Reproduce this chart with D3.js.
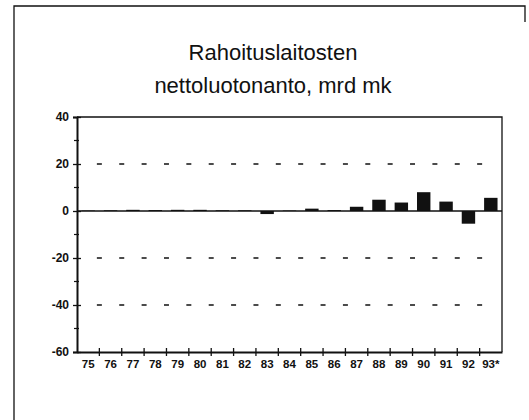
<!DOCTYPE html>
<html><head><meta charset="utf-8">
<script src="https://cdn.jsdelivr.net/npm/d3@7/dist/d3.min.js"></script>
<style>html,body{margin:0;padding:0;background:#fff}svg{display:block}</style>
</head><body>
<svg id="c" width="529" height="420"></svg>
<script>
const categories = ["75","76","77","78","79","80","81","82","83","84","85","86","87","88","89","90","91","92","93*"];
const values = [0.2,0.3,0.5,0.4,0.5,0.5,0.3,0.3,-1.3,0.2,1.0,0.4,1.8,4.8,3.6,8.0,4.0,-5.4,5.6];
const yTicks = [40,20,0,-20,-40,-60];
const yMinor = [30,10,-10,-30,-50];
const gridValues = [20,-20,-40];
const titleLines = ["Rahoituslaitosten","nettoluotonanto, mrd mk"];

const svg = d3.select("#c");
const font = "'Liberation Sans', Arial, sans-serif";
const L = 77, R = 502, T = 117, B = 352;

// outer frame
svg.append("path").attr("d","M14,420 L14,6 L525,6 L525,22").attr("fill","none").attr("stroke","#111").attr("stroke-width",1.3);

// title
svg.selectAll("text.title").data(titleLines).enter().append("text")
  .attr("x",273).attr("y",(d,i)=>60+i*33).attr("text-anchor","middle")
  .attr("font-family",font).attr("font-size",22).attr("fill","#111").text(d=>d);

const x = d3.scaleBand().domain(categories).range([L,R]).paddingInner(0.4).paddingOuter(0.2);
const xb = d3.scaleBand().domain(categories).range([L,R]);
const y = d3.scaleLinear().domain([-60,40]).range([B,T]);

// gridlines
const step = xb.step();
svg.selectAll("line.grid").data(gridValues).enter().append("line")
  .attr("x1",L+step-2.5).attr("x2",R-step+2.5)
  .attr("y1",d=>y(d)).attr("y2",d=>y(d))
  .attr("stroke","#111").attr("stroke-width",1.6)
  .attr("stroke-dasharray",`5,${step-5}`);

// plot frame top/right
svg.append("path").attr("d",`M${L},${T} L${R},${T} L${R},${B}`).attr("fill","none").attr("stroke","#111").attr("stroke-width",1.3);

// bars
svg.selectAll("rect.bar").data(values).enter().append("rect")
  .attr("x",(d,i)=>x(categories[i])).attr("width",x.bandwidth())
  .attr("y",d=>y(Math.max(0,d))).attr("height",d=>Math.abs(y(d)-y(0)))
  .attr("fill","#111");

// zero line
svg.append("line").attr("x1",L).attr("x2",R).attr("y1",y(0)).attr("y2",y(0)).attr("stroke","#111").attr("stroke-width",1.6);

// y axis
const yAxis = d3.axisLeft(y).tickValues(yTicks).tickSize(4).tickFormat(d=>String(d));
const gy = svg.append("g").attr("transform",`translate(${L},0)`).call(yAxis);
gy.select(".domain").attr("stroke","#111").attr("stroke-width",2);
gy.selectAll(".tick line").attr("x2",-4).attr("x1",4).attr("stroke","#111").attr("stroke-width",1.3);
gy.selectAll(".tick text").attr("x",-8).attr("font-family",font).attr("font-size",12).attr("font-weight","bold").attr("fill","#111");
svg.append("g").selectAll("line").data(yMinor).enter().append("line")
  .attr("x1",L-3).attr("x2",L+2).attr("y1",d=>y(d)).attr("y2",d=>y(d)).attr("stroke","#111").attr("stroke-width",1.2);

// x axis
const xAxis = d3.axisBottom(xb).tickSize(0).tickPadding(8);
const gx = svg.append("g").attr("transform",`translate(0,${B})`).call(xAxis);
gx.select(".domain").attr("stroke","#111").attr("stroke-width",2);
gx.selectAll(".tick text").attr("font-family",font).attr("font-size",11.5).attr("font-weight","bold").attr("fill","#111").attr("dy","0.71em");
svg.append("g").selectAll("line").data(categories.slice(1)).enter().append("line")
  .attr("x1",d=>xb(d)).attr("x2",d=>xb(d)).attr("y1",B-4).attr("y2",B+4).attr("stroke","#111").attr("stroke-width",1.3);
</script>
</body></html>
